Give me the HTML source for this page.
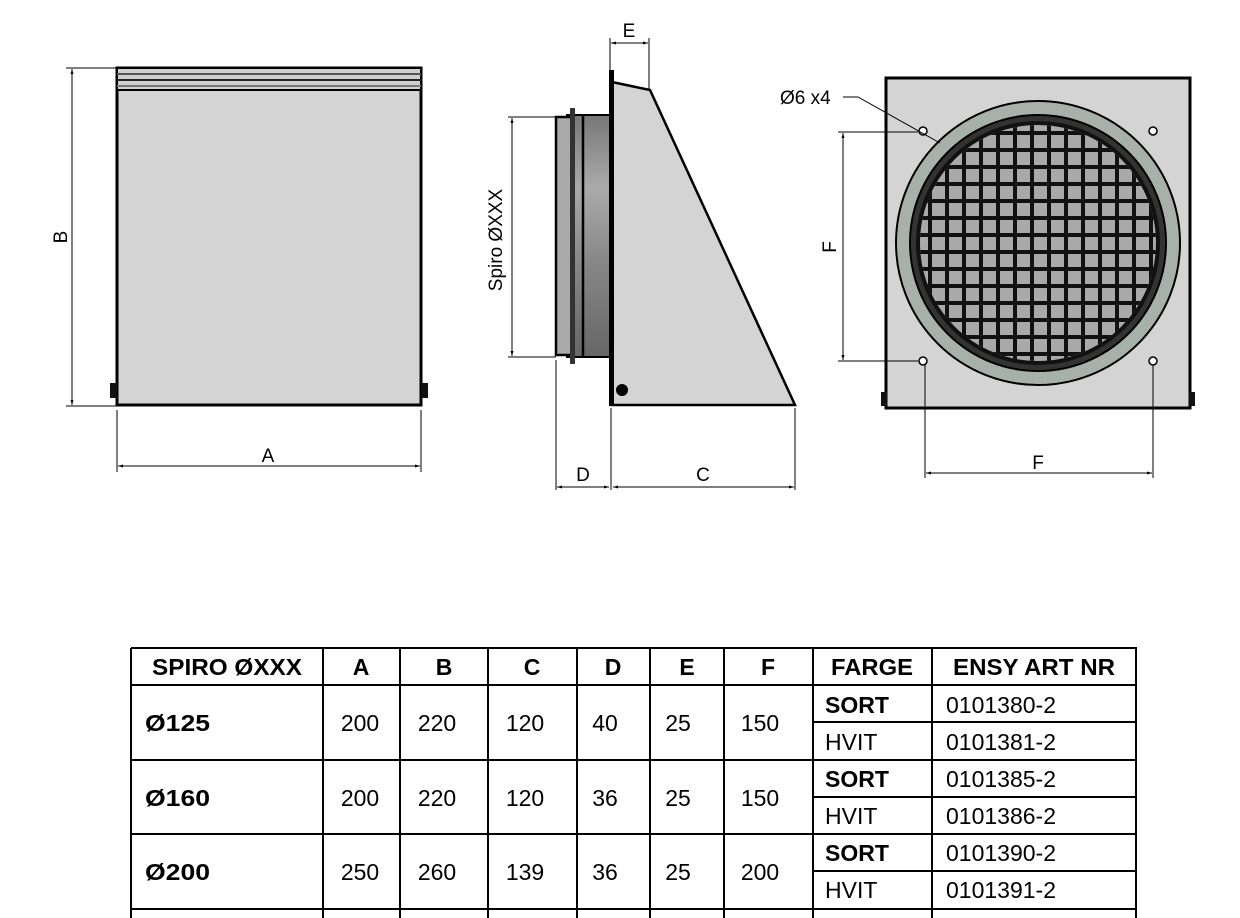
<!DOCTYPE html>
<html><head><meta charset="utf-8"><style>
html,body{margin:0;padding:0;background:#fff;}
svg{display:block;}
text{font-family:"Liberation Sans",sans-serif;}
.t{font-family:"Liberation Sans",sans-serif;font-size:23px;}
.b{font-weight:bold;}
</style></head><body>
<svg width="1240" height="918" viewBox="0 0 1240 918" xmlns="http://www.w3.org/2000/svg">
<defs>
<marker id="ar" viewBox="0 0 10 10" refX="10" refY="5" markerWidth="8" markerHeight="5" orient="auto-start-reverse"><path d="M0,2 L10,5 L0,8 z" fill="#000"/></marker>
<linearGradient id="pipe" x1="0" y1="0" x2="0" y2="1"><stop offset="0" stop-color="#777"/><stop offset="0.3" stop-color="#aaa"/><stop offset="0.6" stop-color="#888"/><stop offset="1" stop-color="#666"/></linearGradient>
<clipPath id="gc"><circle cx="1038" cy="243" r="118"/></clipPath>
</defs>
<!-- LEFT VIEW -->
<rect x="117" y="68" width="304" height="337" fill="#d4d4d4" stroke="#000" stroke-width="3"/>
<rect x="117" y="68" width="304" height="22" fill="#d0d0d0" stroke="#000" stroke-width="2"/>
<line x1="117" y1="74" x2="421" y2="74" stroke="#555" stroke-width="2"/>
<line x1="117" y1="80" x2="421" y2="80" stroke="#222" stroke-width="2"/>
<line x1="117" y1="86" x2="421" y2="86" stroke="#777" stroke-width="2"/>
<rect x="110" y="383" width="7" height="15" fill="#111"/>
<rect x="421" y="383" width="7" height="15" fill="#111"/>
<g stroke="#000" stroke-width="1">
<line x1="66" y1="68" x2="117" y2="68"/><line x1="66" y1="406" x2="117" y2="406"/>
<line x1="72" y1="69" x2="72" y2="405" marker-start="url(#ar)" marker-end="url(#ar)"/>
<line x1="117" y1="410" x2="117" y2="472"/><line x1="421" y1="410" x2="421" y2="472"/>
<line x1="118" y1="466" x2="420" y2="466" marker-start="url(#ar)" marker-end="url(#ar)"/>
</g>
<text x="268" y="462" font-size="19" text-anchor="middle">A</text>
<text transform="translate(67,237) rotate(-90)" font-size="19" text-anchor="middle">B</text>

<!-- MIDDLE VIEW -->
<rect x="567" y="115" width="43" height="242" fill="url(#pipe)" stroke="#000" stroke-width="2"/>
<rect x="556" y="117" width="16" height="238" fill="#aaa" stroke="#000" stroke-width="2.5"/>
<rect x="570" y="108" width="5" height="256" fill="#333"/>
<line x1="583" y1="115" x2="583" y2="357" stroke="#000" stroke-width="2.5"/>
<polygon points="612,82 650,90 795,405 612,405" fill="#d4d4d4" stroke="#000" stroke-width="2.5"/>
<rect x="609" y="70" width="5" height="336" fill="#000"/>
<circle cx="622" cy="390" r="6" fill="#000"/>
<g stroke="#000" stroke-width="1">
<line x1="508" y1="117" x2="556" y2="117"/><line x1="508" y1="357" x2="556" y2="357"/>
<line x1="512" y1="118" x2="512" y2="356" marker-start="url(#ar)" marker-end="url(#ar)"/>
<line x1="610" y1="38" x2="610" y2="72"/><line x1="649" y1="38" x2="649" y2="90"/>
<line x1="611" y1="43" x2="648" y2="43" marker-start="url(#ar)" marker-end="url(#ar)"/>
<line x1="556" y1="360" x2="556" y2="490"/><line x1="611" y1="408" x2="611" y2="490"/><line x1="795" y1="408" x2="795" y2="490"/>
<line x1="557" y1="487" x2="609" y2="487" marker-start="url(#ar)" marker-end="url(#ar)"/>
<line x1="613" y1="487" x2="794" y2="487" marker-start="url(#ar)" marker-end="url(#ar)"/>
</g>
<text x="629" y="37" font-size="19" text-anchor="middle">E</text>
<text x="583" y="481" font-size="19" text-anchor="middle">D</text>
<text x="703" y="481" font-size="19" text-anchor="middle">C</text>
<text transform="translate(502,240) rotate(-90)" font-size="19" text-anchor="middle">Spiro ØXXX</text>

<!-- RIGHT VIEW -->
<rect x="886" y="78" width="304" height="330" fill="#d4d4d4" stroke="#000" stroke-width="3"/>
<rect x="881" y="392" width="6" height="14" fill="#111"/>
<rect x="1189" y="392" width="6" height="14" fill="#111"/>
<circle cx="1038" cy="243" r="142" fill="#a8b0ac" stroke="#000" stroke-width="2"/>
<circle cx="1038" cy="243" r="128" fill="#333" stroke="#000" stroke-width="2"/>
<circle cx="1038" cy="243" r="120" fill="#a9a9a9" stroke="#111" stroke-width="3"/>
<g clip-path="url(#gc)" stroke="#111" stroke-width="4">
<line x1="930" y1="110" x2="930" y2="380"/><line x1="947" y1="110" x2="947" y2="380"/><line x1="964" y1="110" x2="964" y2="380"/><line x1="981" y1="110" x2="981" y2="380"/><line x1="998" y1="110" x2="998" y2="380"/><line x1="1015" y1="110" x2="1015" y2="380"/><line x1="1032" y1="110" x2="1032" y2="380"/><line x1="1049" y1="110" x2="1049" y2="380"/><line x1="1066" y1="110" x2="1066" y2="380"/><line x1="1083" y1="110" x2="1083" y2="380"/><line x1="1100" y1="110" x2="1100" y2="380"/><line x1="1117" y1="110" x2="1117" y2="380"/><line x1="1134" y1="110" x2="1134" y2="380"/><line x1="1151" y1="110" x2="1151" y2="380"/>
<line x1="900" y1="133" x2="1180" y2="133"/><line x1="900" y1="150" x2="1180" y2="150"/><line x1="900" y1="167" x2="1180" y2="167"/><line x1="900" y1="184" x2="1180" y2="184"/><line x1="900" y1="201" x2="1180" y2="201"/><line x1="900" y1="218" x2="1180" y2="218"/><line x1="900" y1="235" x2="1180" y2="235"/><line x1="900" y1="252" x2="1180" y2="252"/><line x1="900" y1="269" x2="1180" y2="269"/><line x1="900" y1="286" x2="1180" y2="286"/><line x1="900" y1="303" x2="1180" y2="303"/><line x1="900" y1="320" x2="1180" y2="320"/><line x1="900" y1="337" x2="1180" y2="337"/><line x1="900" y1="354" x2="1180" y2="354"/>
</g>
<circle cx="1038" cy="243" r="120" fill="none" stroke="#111" stroke-width="4"/>
<g fill="#fff" stroke="#000" stroke-width="1.5">
<ellipse cx="923" cy="131" rx="4" ry="4"/><ellipse cx="1153" cy="131" rx="4" ry="4"/>
<ellipse cx="923" cy="361" rx="4" ry="4"/><ellipse cx="1153" cy="361" rx="4" ry="4"/>
</g>
<g stroke="#000" stroke-width="1" fill="none">
<line x1="838" y1="132" x2="918" y2="132"/><line x1="838" y1="361" x2="918" y2="361"/>
<line x1="843" y1="133" x2="843" y2="360" marker-start="url(#ar)" marker-end="url(#ar)"/>
<line x1="925" y1="365" x2="925" y2="478"/><line x1="1153" y1="365" x2="1153" y2="478"/>
<line x1="926" y1="473" x2="1152" y2="473" marker-start="url(#ar)" marker-end="url(#ar)"/>
<polyline points="843,97 858,97 940,143"/>
</g>
<text x="1038" y="469" font-size="19" text-anchor="middle">F</text>
<text transform="translate(836,247) rotate(-90)" font-size="19" text-anchor="middle">F</text>
<text x="780" y="104" font-size="19">Ø6 x4</text>

<!-- TABLE -->
<g stroke="#000" stroke-width="2" fill="none">
<line x1="131" y1="648" x2="1137" y2="648"/>
<line x1="131" y1="685" x2="1137" y2="685"/>
<line x1="813" y1="722" x2="1137" y2="722"/>
<line x1="131" y1="760" x2="1137" y2="760"/>
<line x1="813" y1="797" x2="1137" y2="797"/>
<line x1="131" y1="834" x2="1137" y2="834"/>
<line x1="813" y1="871" x2="1137" y2="871"/>
<line x1="131" y1="909" x2="1137" y2="909"/>
<line x1="131" y1="648" x2="131" y2="918"/><line x1="323" y1="648" x2="323" y2="918"/><line x1="400" y1="648" x2="400" y2="918"/><line x1="488" y1="648" x2="488" y2="918"/><line x1="577" y1="648" x2="577" y2="918"/><line x1="650" y1="648" x2="650" y2="918"/><line x1="724" y1="648" x2="724" y2="918"/><line x1="813" y1="648" x2="813" y2="918"/><line x1="932" y1="648" x2="932" y2="918"/><line x1="1136" y1="648" x2="1136" y2="918"/>
</g>
<g class="t b" text-anchor="middle" font-size="22">
<text x="227" y="675" textLength="150" lengthAdjust="spacingAndGlyphs">SPIRO ØXXX</text>
<text x="361" y="675">A</text><text x="444" y="675">B</text><text x="532" y="675">C</text><text x="613" y="675">D</text><text x="687" y="675">E</text><text x="768" y="675">F</text>
<text x="872" y="675" textLength="82" lengthAdjust="spacingAndGlyphs">FARGE</text>
<text x="1034" y="675" textLength="162" lengthAdjust="spacingAndGlyphs">ENSY ART NR</text>
</g>
<g class="t">
<text x="145" y="731" class="b" textLength="65" lengthAdjust="spacingAndGlyphs">Ø125</text>
<text x="145" y="806" class="b" textLength="65" lengthAdjust="spacingAndGlyphs">Ø160</text>
<text x="145" y="880" class="b" textLength="65" lengthAdjust="spacingAndGlyphs">Ø200</text>
<g text-anchor="middle">
<text x="360" y="731">200</text><text x="437" y="731">220</text><text x="525" y="731">120</text><text x="605" y="731">40</text><text x="678" y="731">25</text><text x="760" y="731">150</text>
<text x="360" y="806">200</text><text x="437" y="806">220</text><text x="525" y="806">120</text><text x="605" y="806">36</text><text x="678" y="806">25</text><text x="760" y="806">150</text>
<text x="360" y="880">250</text><text x="437" y="880">260</text><text x="525" y="880">139</text><text x="605" y="880">36</text><text x="678" y="880">25</text><text x="760" y="880">200</text>
</g>
<text x="825" y="713" class="b">SORT</text><text x="825" y="750">HVIT</text>
<text x="825" y="787" class="b">SORT</text><text x="825" y="824">HVIT</text>
<text x="825" y="861" class="b">SORT</text><text x="825" y="898">HVIT</text>
<text x="946" y="713">0101380-2</text><text x="946" y="750">0101381-2</text>
<text x="946" y="787">0101385-2</text><text x="946" y="824">0101386-2</text>
<text x="946" y="861">0101390-2</text><text x="946" y="898">0101391-2</text>
</g>
</svg>
</body></html>
